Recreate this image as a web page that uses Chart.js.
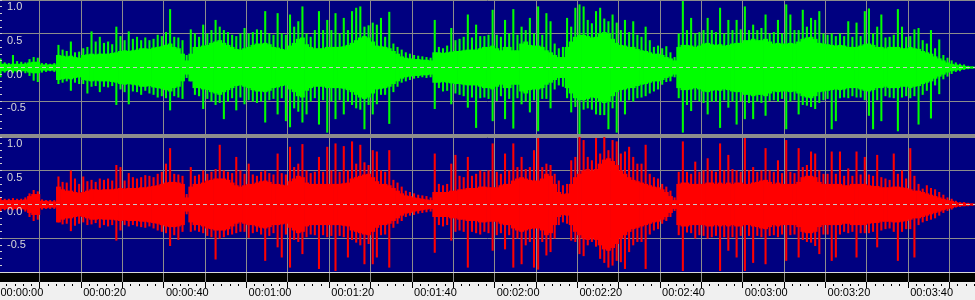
<!DOCTYPE html>
<html>
<head>
<meta charset="utf-8">
<script src="https://cdn.jsdelivr.net/npm/chart.js@4"></script>
<style>
  html, body { margin: 0; padding: 0; background: #8c8c8c; }
  body { width: 975px; height: 300px; position: relative; overflow: hidden; }
  #top { position: absolute; left: 0; top: 0; background: #000080; }
  #bottom { position: absolute; left: 0; top: 137px; background: #f0f0f0; }
</style>
</head>
<body>
<canvas id="top" width="975" height="134"></canvas>
<canvas id="bottom" width="975" height="163"></canvas>
<script>
// one entry per second (0..235), amplitude in hundredths of full scale
// body = dense part (symmetric), hi/lo = highest peak above / below zero

const greenBody = [
  5,5,4,5,5,5,5,7,8,8,       4,4,4,4,18,17,16,17,15,14,
  18,19,20,19,20,20,20,21,22,24, 25,24,25,26,28,28,27,29,30,31,
  33,35,30,28,20,10,20,30,30,32, 33,36,38,40,36,33,30,27,26,28,
  30,33,35,35,36,34,30,29,27,26, 32,36,42,44,34,30,28,28,28,30,
  30,30,30,31,33,36,40,44,46,44, 38,32,31,30,28,24,20,16,14,13,
  12,12,11,11,10,22,22,21,22,23, 24,24,25,26,26,26,28,30,30,32,
  28,25,30,30,25,25,35,38,33,32, 32,30,25,22,18,15,15,30,38,45,
  48,48,46,44,45,50,52,50,42,36, 33,32,30,30,27,25,24,22,20,20,
  18,15,13,10,30,33,33,32,30,32, 35,36,34,33,34,32,33,35,36,36,
  40,40,42,40,40,42,38,35,36,35, 35,36,35,38,42,44,45,42,36,35,
  34,33,32,33,32,30,30,30,32,34, 35,33,30,30,28,30,30,30,28,28,
  30,28,27,24,22,20,16,13,10,7,  5,4,3,2,1,1
];
const greenHi = [
  13,7,6,18,9,8,7,12,15,14,    6,6,5,6,33,26,24,38,22,23,
  28,30,53,38,45,36,38,34,60,46, 40,53,42,45,40,44,40,42,48,46,
  52,86,45,44,40,18,56,50,45,63, 50,55,70,60,55,52,48,46,50,58,
  50,52,56,55,83,50,48,80,50,48, 78,60,68,90,50,45,55,83,55,70,
  55,80,50,73,55,83,88,90,60,62, 66,63,73,45,82,35,30,26,22,20,
  18,17,16,15,14,70,30,28,32,58, 40,42,45,78,44,63,46,46,48,85,
  48,45,70,50,86,48,60,55,73,50, 90,48,80,68,35,28,30,73,60,88,
  93,90,70,65,83,88,72,68,78,66, 55,70,52,68,48,45,60,40,30,32,
  28,31,22,15,50,98,55,73,50,52, 55,73,55,52,88,50,70,55,70,56,
  90,55,63,55,58,78,50,52,70,50, 93,78,55,55,85,60,73,70,83,50,
  48,50,46,50,46,68,45,66,46,83, 87,50,60,78,44,45,48,86,60,45,
  46,56,58,40,35,55,28,41,18,14, 10,7,5,4,2,1
];
const greenLo = [
  14,7,6,8,7,7,8,12,19,21,     7,6,5,6,24,22,20,34,22,24,
  24,38,28,27,36,28,29,27,55,32, 36,54,35,36,40,34,38,40,44,42,
  45,63,42,44,46,15,20,40,42,61, 46,50,55,52,76,50,45,63,44,54,
  48,50,52,50,81,48,46,69,45,79, 88,60,65,81,69,50,45,84,48,96,
  50,76,48,69,50,55,60,62,91,55, 69,54,40,40,83,36,28,22,20,18,
  16,15,14,15,14,61,30,35,34,54, 38,40,42,59,44,89,45,44,46,79,
  49,42,76,46,90,45,54,50,66,48, 94,46,46,60,32,26,28,45,66,58,
  99,62,60,62,69,70,70,91,60,96, 50,69,48,50,45,44,42,38,35,32,
  25,21,20,14,45,96,55,64,48,50, 52,69,50,50,89,48,59,50,84,50,
  76,52,76,50,52,71,49,48,50,46, 91,50,48,69,55,56,58,61,52,48,
  46,91,79,45,44,45,42,44,44,48, 71,91,48,79,42,44,45,94,44,42,
  45,42,84,40,34,75,26,39,17,13, 9,6,5,3,2,1
];

const redBody = [
  6,6,6,6,6,6,7,12,15,15,      5,5,4,4,26,22,20,20,18,17,
  18,20,22,22,21,22,22,22,23,24, 23,24,24,24,25,25,26,27,28,30,
  32,33,33,32,30,10,26,30,30,32, 35,36,38,38,38,36,32,28,26,28,
  30,30,32,34,35,33,30,30,29,28, 34,38,42,40,32,30,30,30,30,30,
  30,30,30,31,32,38,40,42,44,45, 40,34,30,30,28,24,20,16,13,12,
  10,9,8,7,6,18,18,18,18,20,     20,22,22,24,24,24,26,26,25,25,
  25,28,30,30,35,38,40,38,36,35, 35,38,45,42,30,18,15,16,30,40,
  45,50,52,50,52,60,66,68,64,58, 50,45,40,36,34,32,30,28,26,25,
  22,18,12,6,30,32,32,30,30,30,  30,32,32,30,32,30,32,30,32,32,
  30,30,32,33,35,36,33,30,32,30, 30,30,30,33,40,42,42,40,33,30,
  30,30,30,30,28,28,30,30,30,30, 28,27,27,25,25,25,26,26,25,24,
  22,20,20,18,16,14,12,10,8,6,   5,3,2,2,1,1
];
const redHi = [
  9,8,8,9,8,8,10,16,21,19,     7,6,6,6,41,33,32,50,38,30,
  41,34,36,33,38,36,38,35,58,55, 35,46,40,38,40,43,42,40,45,48,
  60,83,45,44,42,15,55,42,44,50, 45,48,52,88,50,48,46,70,50,45,
  60,44,42,48,50,46,44,75,46,44, 85,55,60,89,50,46,48,70,48,85,
  50,90,48,86,50,93,60,88,62,58, 80,78,50,48,80,36,32,26,20,18,
  16,14,13,12,10,75,30,28,30,60, 73,42,40,70,42,45,50,48,50,90,
  48,45,75,50,90,55,70,52,55,80, 98,55,60,58,45,35,28,30,65,70,
  100,95,70,65,98,75,100,80,95,93, 75,78,85,70,60,60,88,45,40,38,
  30,26,20,10,48,93,48,45,63,48, 50,68,50,48,90,50,73,52,50,48,
  98,50,55,48,50,83,50,48,65,46, 95,48,46,83,55,58,78,75,50,45,
  45,78,45,78,42,53,42,78,44,70, 44,42,73,40,38,36,75,45,50,38,
  83,42,30,23,28,24,22,18,14,10, 8,5,3,3,2,1
];
const redLo = [
  9,8,7,8,8,8,10,18,24,22,     7,6,6,6,26,29,28,39,31,28,
  26,30,29,27,34,30,32,30,53,38, 30,32,30,32,33,34,32,35,38,40,
  42,61,45,52,40,14,40,38,40,42, 46,48,81,50,48,45,44,42,40,40,
  49,42,40,44,83,46,42,63,78,44, 93,52,55,73,48,44,45,95,45,48,
  46,98,46,48,78,52,56,60,88,58, 88,78,45,44,93,34,28,24,18,16,
  15,13,12,11,10,71,30,32,30,53, 40,38,40,93,40,42,44,40,42,68,
  45,42,66,45,93,50,88,60,55,93, 96,55,75,70,50,30,26,28,53,55,
  73,76,60,55,62,80,86,93,90,83, 85,95,70,60,55,55,95,44,38,36,
  28,24,18,9,45,98,41,42,50,45,  46,50,48,46,98,48,68,48,78,46,
  98,46,86,46,48,88,46,45,48,44, 83,45,44,78,52,55,56,61,73,44,
  44,83,78,44,40,42,40,78,42,42, 42,40,63,38,36,35,40,83,40,36,
  36,78,30,26,24,22,20,16,12,9,  7,4,3,2,2,1
];

// time axis (seconds) and level axis
const gridTimes = [0,10,20,30,40,50,60,70,80,90,100,110,120,130,140,150,160,170,180,190,200,210,220,230];
const labelTimes = [0,20,40,60,80,100,120,140,160,180,200,220];
const timeLabels = ['00:00:00','00:00:20','00:00:40','00:01:00','00:01:20','00:01:40',
                    '00:02:00','00:02:20','00:02:40','00:03:00','00:03:20','00:03:40'];
const levelTicks = [-1, -0.5, 0, 0.5, 1];
const levelLabels = ['', '-0.5', '0.0', '0.5', '1.0'];

const T_MIN = 0.363, T_MAX = 236.15;
const NAVY = '#000080', GRID = '#8c8c8c';

function waveSets(body, hi, lo, color) {
  return [
    { data: body.map((v, i) => ({ x: i + 0.5, y: [-v / 100, v / 100] })),
      backgroundColor: color, barThickness: 4.2, grouped: false, order: 2 },
    { data: hi.map((v, i) => ({ x: i + 0.5, y: [-lo[i] / 100, v / 100] })),
      backgroundColor: color, barThickness: 1.4, grouped: false, order: 1 }
  ];
}

const deco = {
  id: 'deco',
  beforeDraw(chart) {
    const { ctx, chartArea: a } = chart;
    ctx.save();
    ctx.fillStyle = NAVY;
    ctx.fillRect(a.left, a.top, a.right - a.left, a.bottom - a.top);
    ctx.restore();
  },
  afterDatasetsDraw(chart) {
    const { ctx, chartArea: a, scales: { y } } = chart;
    ctx.save();
    // dashed zero line
    ctx.strokeStyle = '#c8c8c8';
    ctx.lineWidth = 1;
    ctx.setLineDash([4, 3]);
    const y0 = Math.floor(y.getPixelForValue(0)) + 0.5;
    ctx.beginPath(); ctx.moveTo(a.left, y0); ctx.lineTo(a.right, y0); ctx.stroke();
    ctx.setLineDash([]);
    // small level ticks on the left edge, every 0.1
    ctx.fillStyle = '#d0d0d0';
    for (let k = -10; k <= 10; k++) {
      const py = Math.floor(y.getPixelForValue(k / 10));
      if (py >= a.top && py < a.bottom) ctx.fillRect(a.left, py, 2, 1);
    }
    ctx.restore();
  },
  afterDraw(chart) {
    if (chart.canvas.id !== 'bottom') return;
    const { ctx, chartArea: a, scales: { x } } = chart;
    ctx.save();
    ctx.fillStyle = '#000';
    ctx.fillRect(0, a.bottom + 1, chart.width, 9);
    ctx.fillStyle = GRID;
    gridTimes.forEach(t => ctx.fillRect(Math.floor(x.getPixelForValue(t)), a.bottom + 1, 1, 9));
    ctx.fillStyle = '#000';
    for (let t = 2; t < T_MAX; t += 2) {
      if (t % 10 === 0) continue;
      ctx.fillRect(Math.floor(x.getPixelForValue(t)), a.bottom + 12, 1, 2);
    }
    ctx.restore();
  }
};

function panel(id, datasets, withTime, yMin) {
  return new Chart(document.getElementById(id), {
    type: 'bar',
    data: { datasets },
    options: {
      responsive: false,
      animation: false,
      events: [],
      layout: { padding: 0 },
      plugins: { legend: { display: false }, tooltip: { enabled: false } },
      scales: {
        x: {
          type: 'linear', min: T_MIN, max: T_MAX, offset: false,
          afterBuildTicks: s => { s.ticks = gridTimes.map(v => ({ value: v })); },
          grid: { offset: false, color: GRID, drawTicks: withTime, tickLength: 16, tickColor: '#000' },
          border: { display: false },
          ticks: {
            display: withTime, autoSkip: false, minRotation: 0, maxRotation: 0,
            align: 'start', padding: -2, labelOffset: 2, color: '#000',
            font: { family: 'Liberation Sans', size: 11 },
            callback: v => { const k = labelTimes.indexOf(v); return k < 0 ? '' : timeLabels[k]; }
          },
          afterFit: s => { s.height = withTime ? 28 : 0; s.paddingLeft = 0; s.paddingRight = 0; }
        },
        y: {
          min: yMin, max: 1,
          afterBuildTicks: s => { s.ticks = levelTicks.map(v => ({ value: v })); },
          grid: {
            drawTicks: false,
            color: c => c.tick.value === 0 ? 'rgba(0,0,0,0)' : (c.tick.value === -1 ? '#d8d8d8' : GRID)
          },
          border: { display: false },
          ticks: {
            mirror: true, padding: 7, labelOffset: 7, z: 1, autoSkip: false,
            color: '#d8d8d8', font: { family: 'Liberation Sans', size: 11 },
            callback: v => levelLabels[levelTicks.indexOf(v)]
          },
          afterFit: s => { s.width = 0; s.paddingTop = 0; s.paddingBottom = 0; }
        }
      }
    },
    plugins: [deco]
  });
}

panel('top', waveSets(greenBody, greenHi, greenLo, '#00ff00'), false, -0.985);
panel('bottom', waveSets(redBody, redHi, redLo, '#ff0000'), true, -1);
</script>
</body>
</html>
